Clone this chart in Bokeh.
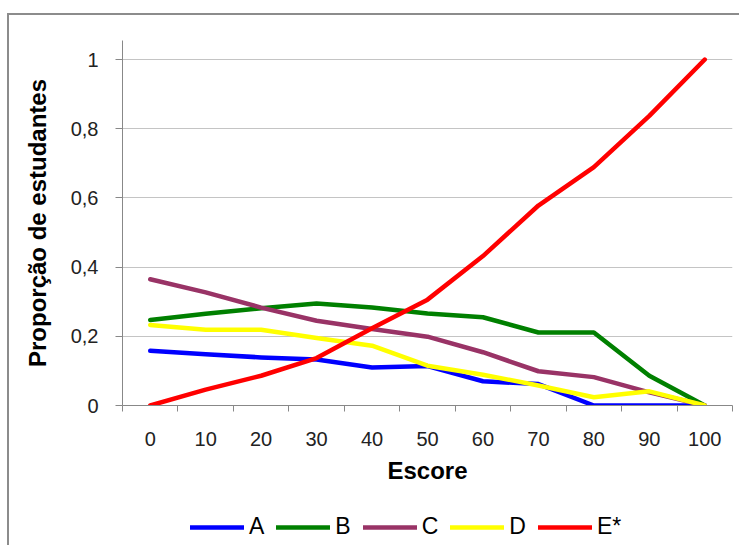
from bokeh.plotting import figure
from bokeh.layouts import column
from bokeh.models import Range1d, FixedTicker, Legend, LegendItem
from bokeh.embed import file_html
from bokeh.resources import INLINE

# ---- data ----
scores = [0, 10, 20, 30, 40, 50, 60, 70, 80, 90, 100]
option_A = [0.158, 0.148, 0.139, 0.133, 0.110, 0.114, 0.070, 0.062, 0.0, 0.0, 0.0]
option_B = [0.247, 0.265, 0.281, 0.295, 0.283, 0.266, 0.255, 0.211, 0.211, 0.086, 0.0]
option_C = [0.365, 0.327, 0.283, 0.245, 0.221, 0.199, 0.154, 0.099, 0.082, 0.038, 0.0]
option_D = [0.233, 0.219, 0.219, 0.195, 0.173, 0.115, 0.089, 0.058, 0.024, 0.041, 0.0]
option_E = [0.0, 0.046, 0.086, 0.137, 0.223, 0.306, 0.432, 0.578, 0.689, 0.837, 1.0]
series_names = ["A", "B", "C", "D", "E*"]
series_colors = ["#0000ff", "#008000", "#993366", "#ffff00", "#ff0000"]
y_ticks = [0, 0.2, 0.4, 0.6, 0.8, 1.0]
y_tick_labels = ["0", "0,2", "0,4", "0,6", "0,8", "1"]
x_tick_labels = [str(s) for s in scores]
x_title = "Escore"
y_title = "Proporção de estudantes"

FONT = "Liberation Sans"
half = (scores[1] - scores[0]) / 2
all_series = [option_A, option_B, option_C, option_D, option_E]

# ---------------- main chart ----------------
p = figure(width=730, height=475, output_backend="svg", toolbar_location=None,
           x_range=Range1d(scores[0] - half, scores[-1] + half),
           y_range=Range1d(0, 1.055),
           min_border_left=113, min_border_right=7, min_border_top=25,
           min_border_bottom=85)
p.outline_line_color = None
p.background_fill_color = "white"
p.border_fill_color = "white"

for vals, col in zip(all_series, series_colors):
    p.line(scores, vals, line_color=col, line_width=4.5,
           line_join="round", line_cap="round")

# y axis
yax = p.yaxis[0]
yax.ticker = FixedTicker(ticks=y_ticks)
yax.major_label_overrides = {t: l for t, l in zip(y_ticks, y_tick_labels)}
yax.axis_line_color = "#888888"
yax.major_tick_line_color = "#888888"
yax.major_tick_out = 7
yax.major_tick_in = 0
yax.minor_tick_line_color = None
yax.major_label_standoff = 17
yax.major_label_text_font = FONT
yax.major_label_text_font_size = "20px"
yax.major_label_text_color = "#222222"
yax.axis_label = y_title
yax.axis_label_standoff = 17
yax.axis_label_text_font = FONT
yax.axis_label_text_font_style = "bold"
yax.axis_label_text_font_size = "24px"
yax.axis_label_text_color = "black"

# x axis: labels at category centres, ticks at boundaries
xax = p.xaxis[0]
boundaries = [s - half for s in scores] + [scores[-1] + half]
xax.ticker = FixedTicker(ticks=scores, minor_ticks=boundaries)
xax.major_label_overrides = {s: l for s, l in zip(scores, x_tick_labels)}
xax.axis_line_color = "#888888"
xax.major_tick_line_color = None
xax.major_tick_out = 0
xax.major_tick_in = 0
xax.minor_tick_line_color = "#888888"
xax.minor_tick_out = 6
xax.minor_tick_in = 0
xax.major_label_standoff = 20
xax.major_label_text_font = FONT
xax.major_label_text_font_size = "20px"
xax.major_label_text_color = "#222222"
xax.axis_label = x_title
xax.axis_label_standoff = 8
xax.axis_label_text_font = FONT
xax.axis_label_text_font_style = "bold"
xax.axis_label_text_font_size = "24px"
xax.axis_label_text_color = "black"

p.xgrid.grid_line_color = None
p.ygrid.ticker = FixedTicker(ticks=y_ticks)
p.ygrid.grid_line_color = "#c4c4c4"
p.ygrid.grid_line_width = 1.2

# ---------------- legend strip below the chart ----------------
lf = figure(width=730, height=55, output_backend="svg", toolbar_location=None,
            x_range=Range1d(1000, 1001), y_range=Range1d(1000, 1001),
            x_axis_location=None, y_axis_location=None,
            min_border_left=0, min_border_right=0, min_border_top=0,
            min_border_bottom=0)
lf.outline_line_color = None
lf.xgrid.visible = False
lf.ygrid.visible = False
lf.background_fill_color = "white"
lf.border_fill_color = "white"
legend_renderers = []
for vals, col in zip(all_series, series_colors):
    legend_renderers.append(lf.line(scores, vals, line_color=col, line_width=4.5,
                                    line_cap="round"))
items = [LegendItem(label=n, renderers=[r]) for n, r in zip(series_names, legend_renderers)]
legend = Legend(items=items, orientation="horizontal", location=(68, 5),
                glyph_width=54, glyph_height=24, label_standoff=5, spacing=12,
                padding=0, margin=0, border_line_color=None,
                background_fill_alpha=0, label_width=10, label_height=24,
                label_text_font=FONT, label_text_font_size="23px",
                label_text_color="black")
lf.add_layout(legend, "center")

layout = column(p, lf, spacing=0,
                styles={"border-left": "2px solid #8c8c8c", "border-top": "2px solid #8c8c8c",
                        "margin-left": "7px", "margin-top": "13px"})

open("out.html", "w").write(file_html(layout, INLINE))
